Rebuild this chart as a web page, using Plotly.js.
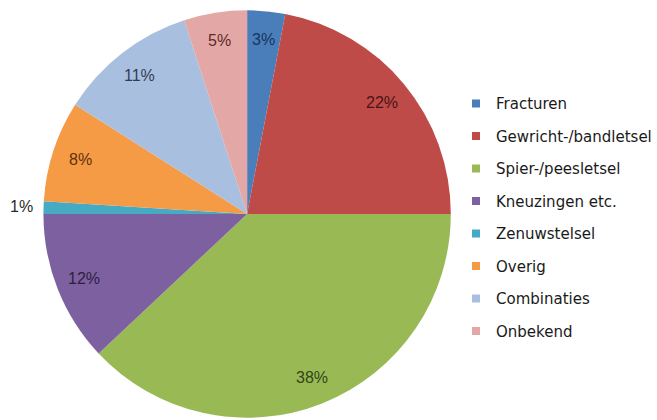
<!DOCTYPE html>
<html>
<head>
<meta charset="utf-8">
<script src="https://cdn.plot.ly/plotly-3.0.1.min.js"></script>
<style>html,body{margin:0;padding:0;background:#fff;}#chart{width:657px;height:420px;}</style>
</head>
<body>
<div id="chart"></div>
<script>
const categories = ["Fracturen", "Gewricht-/bandletsel", "Spier-/peesletsel", "Kneuzingen etc.", "Zenuwstelsel", "Overig", "Combinaties", "Onbekend"];
const values = [3, 22, 38, 12, 1, 8, 11, 5];
const colors = ["#4a7ebb", "#be4b48", "#98b954", "#7d60a0", "#46aac5", "#f59a45", "#a9bfe0", "#e3a8a6"];
const labelColors = ["#17345c", "#4a1414", "#34461a", "#2c1f40", "#2a2a2a", "#5e320b", "#333d52", "#5e2a2a"];

const W = 657, H = 420;
const cx = 247.5, cy = 214, R = 204;
const domX = [(cx - R) / W, (cx + R) / W];
const domY = [(H - cy - R) / H, (H - cy + R) / H];

const traces = [{
  type: "pie",
  labels: categories,
  values: values,
  sort: false,
  direction: "clockwise",
  rotation: 0,
  marker: {colors: colors, line: {width: 0}},
  textinfo: "none",
  hoverinfo: "label+percent",
  showlegend: false,
  domain: {x: domX, y: domY}
}];

categories.forEach((c, i) => {
  traces.push({
    type: "scatter",
    mode: "markers",
    x: [null], y: [null],
    name: c,
    legendgroup: "g" + i,
    marker: {symbol: "square", size: 8, color: colors[i]},
    showlegend: true,
    hoverinfo: "skip"
  });
});

const total = values.reduce((a, b) => a + b, 0);
const annotations = [];
let cum = 0;
values.forEach((v, i) => {
  const mid = (cum + v / 2) / total;
  cum += v;
  const theta = (90 - 360 * mid) * Math.PI / 180;
  const outside = v / total < 0.02;
  const r = outside ? R * 1.11 : R * 0.86;
  const px = cx + r * Math.cos(theta);
  const py = cy - r * Math.sin(theta);
  annotations.push({
    xref: "paper", yref: "paper",
    x: px / W, y: (H - py) / H,
    xanchor: "center", yanchor: "middle",
    text: Math.round(v / total * 100) + "%",
    showarrow: false,
    font: {family: "Liberation Sans, Arial, sans-serif", size: 16, color: labelColors[i]}
  });
});

const layout = {
  width: W, height: H,
  margin: {l: 0, r: 0, t: 0, b: 0},
  paper_bgcolor: "#ffffff",
  plot_bgcolor: "rgba(0,0,0,0)",
  xaxis: {visible: false, domain: [0.9, 1]},
  yaxis: {visible: false, domain: [0.9, 1]},
  showlegend: true,
  legend: {
    x: 0.695, y: 0.792, xanchor: "left", yanchor: "top",
    font: {family: "DejaVu Sans, sans-serif", size: 15, color: "#1a1a1a"},
    tracegroupgap: 10,
    itemwidth: 30,
    bgcolor: "rgba(0,0,0,0)"
  },
  annotations: annotations
};

Plotly.newPlot("chart", traces, layout, {displayModeBar: false, staticPlot: true});
</script>
</body>
</html>
